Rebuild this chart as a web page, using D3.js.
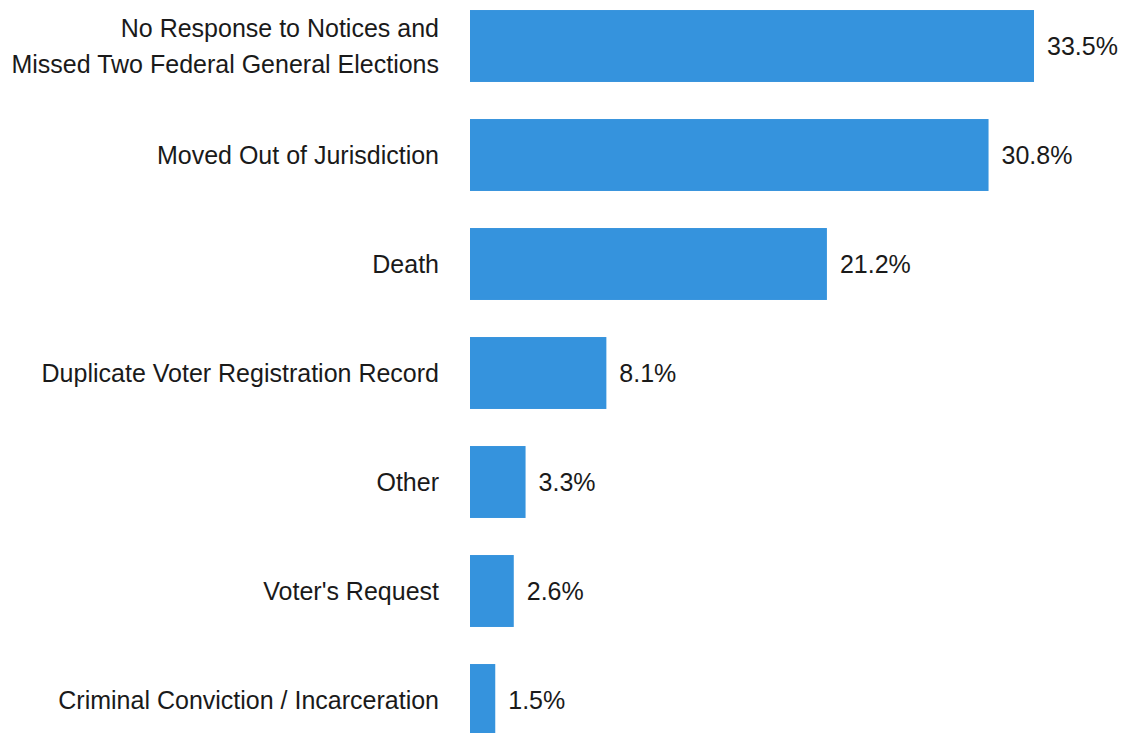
<!DOCTYPE html>
<html>
<head>
<meta charset="utf-8">
<script src="https://cdn.jsdelivr.net/npm/d3@7"></script>
<style>
  body { margin: 0; background: #fff; }
  svg text { font-family: "Liberation Sans", Arial, sans-serif; fill: #1a1a1a; }
</style>
</head>
<body>
<svg id="chart" width="1123" height="733"></svg>
<script>
// reasons for removal, top to bottom
const categories = [
  ["No Response to Notices and", "Missed Two Federal General Elections"],
  ["Moved Out of Jurisdiction"],
  ["Death"],
  ["Duplicate Voter Registration Record"],
  ["Other"],
  ["Voter's Request"],
  ["Criminal Conviction / Incarceration"]
];
const values = [33.5, 30.8, 21.2, 8.1, 3.3, 2.6, 1.5];

const width = 1123, height = 733;
const fontSize = 25;
const barColour = "#3593dd";

const svg = d3.select("#chart");

const data = categories.map((c, i) => ({ key: i, lines: c, value: values[i] }));

const xScale = d3.scaleLinear()
  .domain([0, d3.max(values)])
  .range([470, 1034]);

const yScale = d3.scaleBand()
  .domain(data.map(d => d.key))
  .range([-8.5, 754.5])
  .paddingInner(0.34)
  .paddingOuter(0.17);

const rows = svg.selectAll(".row").data(data)
  .enter().append("g")
    .attr("class", "row");

rows.append("rect")
  .attr("x", xScale(0))
  .attr("y", d => yScale(d.key))
  .attr("width", d => xScale(d.value) - xScale(0))
  .attr("height", yScale.bandwidth())
  .attr("fill", barColour);

// category labels, right aligned next to the bars
const lineGap = 36;
const baseShift = 9;
rows.append("text")
  .attr("text-anchor", "end")
  .attr("font-size", fontSize)
  .attr("x", xScale(0) - 31)
  .attr("y", d => yScale(d.key) + yScale.bandwidth() / 2)
  .selectAll("tspan").data(d => d.lines.map((l, j) => ({ l, j, n: d.lines.length })))
  .enter().append("tspan")
    .attr("x", xScale(0) - 31)
    .attr("dy", t => t.j == 0 ? (-(t.n - 1) * lineGap / 2) + baseShift : lineGap)
    .text(t => t.l);

// value labels
rows.append("text")
  .attr("font-size", fontSize)
  .attr("x", d => xScale(d.value) + 13)
  .attr("y", d => yScale(d.key) + yScale.bandwidth() / 2 + baseShift)
  .text(d => d.value.toFixed(1) + "%");
</script>
</body>
</html>
